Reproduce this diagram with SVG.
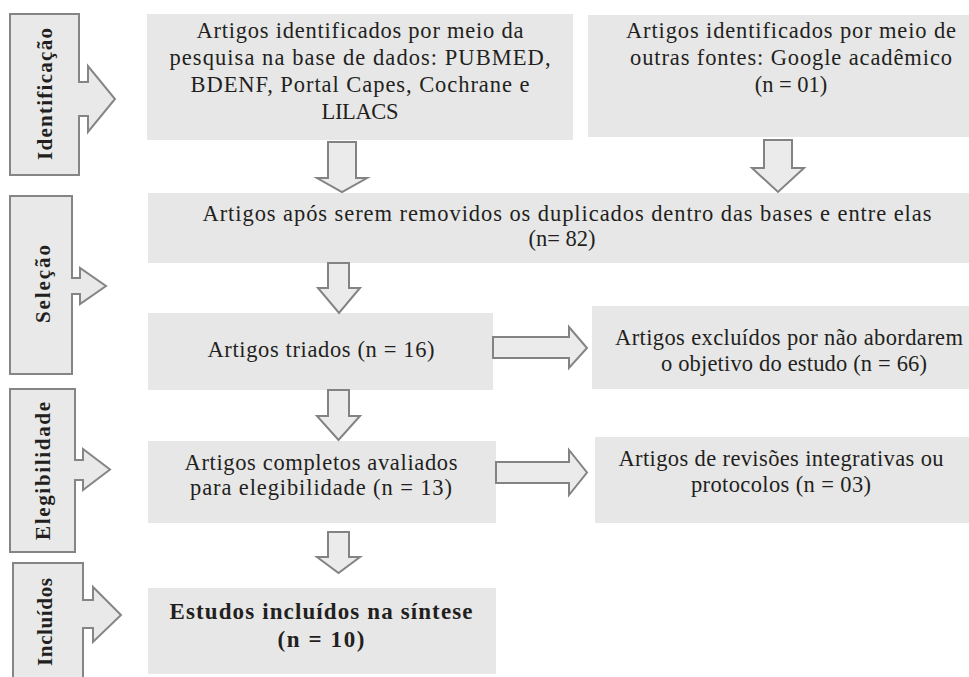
<svg xmlns="http://www.w3.org/2000/svg" width="969" height="677" viewBox="0 0 969 677" font-family="'Liberation Serif', 'DejaVu Serif', serif">
<style>
.box{fill:#e7e7e7}
.lbl{fill:#e9e9e9;stroke:#858585;stroke-width:2}
.arr{fill:#ebebeb;stroke:#838383;stroke-width:2}
text{font-family:'Liberation Serif','DejaVu Serif',serif;fill:#231f20}
.t{font-size:22.5px;text-anchor:middle}
.b{font-size:23px;font-weight:bold;text-anchor:middle}
.v{font-size:21px;font-weight:bold;text-anchor:middle}
</style>
<rect width="969" height="677" fill="#ffffff"/>

<g id="stage-identificacao">
<path class="lbl" d="M10,14 H79 V82 H88 V66 L115,99 L88,132 V116 H79 V175 H10 Z"/>
<text class="v" transform="translate(52,94) rotate(-90)" textLength="132">Identificação</text>
</g>
<g id="stage-selecao">
<path class="lbl" d="M10,196 H72 V278 H80 V268 L106,286 L80,304 V294 H72 V374 H10 Z"/>
<text class="v" transform="translate(50,284) rotate(-90)" textLength="78">Seleção</text>
</g>
<g id="stage-elegibilidade">
<path class="lbl" d="M10,389 H75 V460 H83 V449 L110,469.5 L83,490 V480 H75 V552 H10 Z"/>
<text class="v" transform="translate(50,471) rotate(-90)" textLength="138">Elegibilidade</text>
</g>
<g id="stage-incluidos">
<path class="lbl" d="M13,563 H83 V600 H93 V587 L121,615 L93,642 V628 H83 V690 H13 Z"/>
<text class="v" transform="translate(52,622) rotate(-90)" textLength="88">Incluídos</text>
</g>

<g id="box-bases">
<rect class="box" x="147" y="14" width="426" height="126"/>
<text class="t" x="360" y="38" textLength="327">Artigos identificados por meio da</text>
<text class="t" x="360" y="65" textLength="381">pesquisa na base de dados: PUBMED,</text>
<text class="t" x="360" y="92" textLength="339">BDENF, Portal Capes, Cochrane e</text>
<text class="t" x="360" y="119" textLength="77">LILACS</text>
</g>
<g id="box-outras">
<rect class="box" x="588" y="15" width="381" height="122"/>
<text class="t" x="791" y="38" textLength="330">Artigos identificados por meio de</text>
<text class="t" x="791" y="65" textLength="322">outras fontes: Google acadêmico</text>
<text class="t" x="791" y="92">(n = 01)</text>
</g>
<g id="box-duplicados">
<rect class="box" x="148" y="193" width="821" height="70"/>
<text class="t" x="567" y="221" textLength="729">Artigos após serem removidos os duplicados dentro das bases e entre elas</text>
<text class="t" x="562" y="246">(n= 82)</text>
</g>
<g id="box-triados">
<rect class="box" x="148" y="313" width="345" height="77"/>
<text class="t" x="321" y="357" textLength="227">Artigos triados (n = 16)</text>
</g>
<g id="box-excluidos">
<rect class="box" x="592" y="306" width="377" height="83"/>
<text class="t" x="789" y="345" textLength="348">Artigos excluídos por não abordarem</text>
<text class="t" x="794" y="371" textLength="266">o objetivo do estudo (n = 66)</text>
</g>
<g id="box-completos">
<rect class="box" x="148" y="441" width="348" height="82"/>
<text class="t" x="321" y="470" textLength="273">Artigos completos avaliados</text>
<text class="t" x="321" y="495" textLength="262">para elegibilidade (n = 13)</text>
</g>
<g id="box-revisoes">
<rect class="box" x="595" y="437" width="374" height="86"/>
<text class="t" x="781" y="466" textLength="325">Artigos de revisões integrativas ou</text>
<text class="t" x="781" y="492" textLength="180">protocolos (n = 03)</text>
</g>
<g id="box-incluidos">
<rect class="box" x="148" y="588" width="348" height="86"/>
<text class="b" x="321" y="619" textLength="303">Estudos incluídos na síntese</text>
<text class="b" x="321" y="647" textLength="87">(n = 10)</text>
</g>

<g id="connectors">
<path class="arr" d="M328,142 H356 V178 H367 L342,192 L317,178 H328 Z"/>
<path class="arr" d="M764,140 H792 V168 H804 L778,192 L752,168 H764 Z"/>
<path class="arr" d="M328,263 H349 V288 H360 L339,313 L318,288 H328 Z"/>
<path class="arr" d="M328,390 H349 V416 H360 L338.5,440 L317,416 H328 Z"/>
<path class="arr" d="M328,532 H349 V557 H360 L338.5,573 L317,557 H328 Z"/>
<path class="arr" d="M493,337 H569 V327 L587,348 L569,368 V358 H493 Z"/>
<path class="arr" d="M496,462 H569 V450 L587,472.5 L569,495 V483 H496 Z"/>
</g>
</svg>
